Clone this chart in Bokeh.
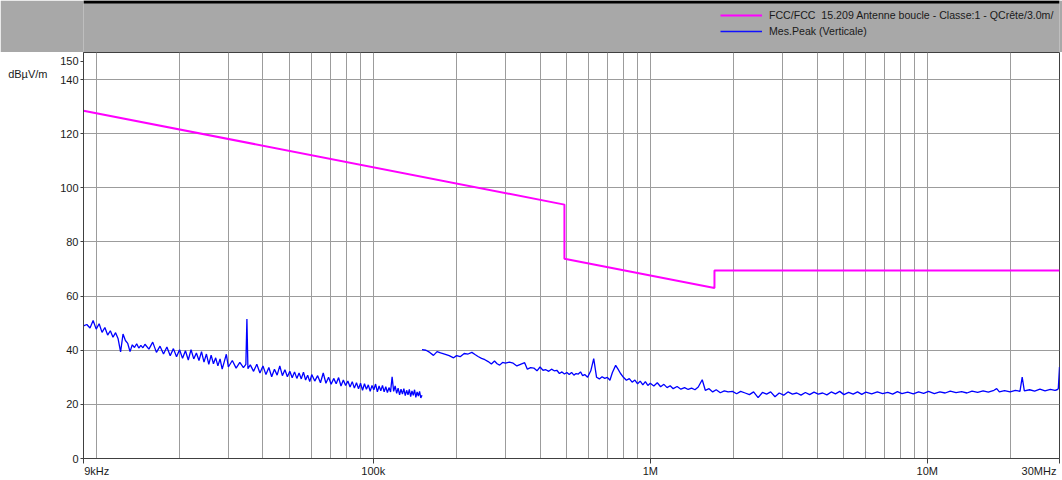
from bokeh.plotting import figure
from bokeh.models import Range1d, FixedTicker, Legend, LegendItem, LogAxis, LinearAxis, Span
from bokeh.layouts import column
from bokeh.embed import file_html
from bokeh.resources import INLINE

# ---------------- data ----------------
limit_label = "FCC/FCC  15.209 Antenne boucle - Classe:1 - QCrête/3.0m/"
meas_label = "Mes.Peak (Verticale)"
y_unit = "dBµV/m"

limit_freq_hz = [9e3, 490e3, 490e3, 1.705e6, 1.705e6, 30e6]
limit_level = [128.5, 93.8, 73.8, 63.0, 69.5, 69.5]

low_freq_khz = [
    9.0, 9.25, 9.5, 9.75, 10.0, 10.25, 10.5, 10.75, 11.0, 11.25,
    11.5, 11.75, 12.0, 12.25, 12.5, 12.75, 13.0, 13.25, 13.5, 13.75,
    14.0, 14.25, 14.5, 14.75, 15.0, 15.5, 16.0, 16.5, 17.0, 17.5,
    18.0, 18.5, 19.0, 19.5, 20.0, 20.5, 21.0, 21.5, 22.0, 22.5,
    23.0, 23.5, 24.0, 24.5, 25.0, 25.5, 26.0, 26.5, 27.0, 27.5,
    28.0, 28.5, 29.0, 29.5, 30.0, 31.0, 32.0, 33.0, 34.0, 34.7,
    35.0, 35.3, 36.0, 37.0, 38.0, 39.0, 40.0, 41.0, 42.0, 43.0,
    44, 45, 46, 47, 48, 49, 50, 51, 52, 53,
    54, 55, 56, 57, 58, 59, 60, 61.5, 63, 64.5,
    66, 67.5, 69, 70.5, 72, 73.5, 75, 76.5, 78, 79.5,
    81, 82.5, 84, 85.5, 87, 88.5, 90, 91.5, 93, 94.5,
    96, 97.5, 99, 100.5, 102, 103.5, 105, 106.5, 108, 109.5,
    111, 112.5, 114, 115.5, 117, 118.5, 120, 121.5, 123, 124.5,
    126, 127.5, 129, 130.5, 132, 133.5, 135, 136.5, 138, 139.5,
    141, 142.5, 144, 145.5, 147, 148.5, 150,
]
low_level = [
    49.0, 49.5, 48.2, 51.0, 47.8, 49.8, 46.6, 48.4, 45.6, 47.2,
    44.8, 46.5, 44.2, 39.4, 46.0, 43.6, 42.5, 39.5, 42.0, 41.0,
    42.4, 40.8, 41.8, 40.9, 42.2, 40.4, 43.0, 39.2, 41.5, 38.6,
    41.2, 38.0, 40.6, 37.6, 40.2, 37.0, 39.8, 36.4, 40.2, 36.8,
    39.0, 36.2, 39.5, 35.6, 38.6, 34.8, 38.2, 35.0, 37.2, 34.2,
    36.8, 33.0, 35.8, 38.5, 33.8, 36.2, 33.4, 35.5, 33.6, 34.8,
    51.5, 33.2, 34.6, 32.2, 34.8, 31.6, 34.2, 31.0, 33.6, 30.2,
    33.0, 30.8, 34.2, 30.6, 32.8, 30.2, 32.2, 29.8, 32.0, 29.6,
    31.6, 29.4, 31.9, 29.0, 30.8, 28.4, 31.0, 28.6, 30.6, 28.0,
    31.6, 27.8, 30.0, 27.4, 29.6, 27.6, 29.9, 26.8, 29.0, 27.0,
    28.6, 26.4, 28.4, 26.0, 28.0, 25.8, 27.8, 25.2, 27.6, 25.6,
    27.2, 24.8, 27.0, 25.4, 27.5, 24.6, 26.8, 25.0, 27.0, 24.6,
    26.5, 24.4, 26.2, 24.6, 30.2, 24.8, 26.8, 24.1, 26.0, 23.5,
    25.6, 23.8, 25.8, 23.2, 25.2, 23.5, 25.5, 22.9, 25.0, 23.3,
    25.4, 22.6, 24.6, 23.1, 24.8, 22.4, 23.4,
]

high_freq_mhz = [
    0.150, 0.155, 0.160, 0.165, 0.170, 0.175, 0.181, 0.188, 0.195, 0.200,
    0.206, 0.213, 0.220, 0.227, 0.233, 0.239, 0.246, 0.253, 0.260, 0.267,
    0.274, 0.280, 0.286, 0.293, 0.300, 0.310, 0.320, 0.330, 0.340, 0.352,
    0.360, 0.370, 0.380, 0.390, 0.400, 0.410, 0.420, 0.430, 0.440, 0.450,
    0.460, 0.470, 0.480, 0.490, 0.500, 0.510, 0.520, 0.530, 0.540, 0.550,
    0.560, 0.570, 0.580, 0.594, 0.610, 0.625, 0.640, 0.655, 0.670, 0.685,
    0.700, 0.715, 0.730, 0.750, 0.765, 0.780, 0.800, 0.820, 0.840, 0.860,
    0.880, 0.900, 0.920, 0.940, 0.960, 0.980, 1.00, 1.03, 1.06, 1.09,
    1.12, 1.15, 1.18, 1.21, 1.25, 1.29, 1.33, 1.37, 1.41, 1.45,
    1.49, 1.54, 1.58, 1.63, 1.68, 1.73, 1.79, 1.85, 1.91, 1.98,
    2.05, 2.12, 2.20, 2.28, 2.36, 2.45, 2.54, 2.63, 2.72, 2.82,
    2.92, 3.03, 3.14, 3.26, 3.38, 3.50, 3.63, 3.76, 3.90, 4.04,
    4.19, 4.34, 4.50, 4.66, 4.83, 5.00, 5.2, 5.4, 5.6, 5.8,
    6.0, 6.3, 6.6, 6.9, 7.2, 7.5, 7.8, 8.1, 8.5, 8.9,
    9.3, 9.7, 10.1, 10.6, 11.1, 11.6, 12.1, 12.7, 13.3, 13.9,
    14.5, 15.2, 15.9, 16.6, 17.4, 17.8, 18.2, 19.0, 19.9, 20.8,
    21.6, 22.0, 22.4, 23.4, 24.4, 25.5, 26.6, 27.8, 28.9, 29.4,
    29.7, 30.0,
]
high_level = [
    40.2, 40.0, 39.2, 38.1, 39.5, 39.0, 38.6, 38.0, 37.2, 38.0,
    37.6, 38.8, 38.6, 39.2, 38.4, 37.7, 37.0, 36.5, 35.8, 34.9,
    36.0, 35.0, 34.5, 35.5, 35.2, 35.6, 35.2, 34.2, 34.8, 35.4,
    33.0, 33.6, 33.4, 32.4, 33.8, 32.6, 32.8, 32.2, 33.0, 32.4,
    32.6, 31.4, 32.0, 31.2, 31.8, 31.0, 31.8, 30.8, 31.4, 31.2,
    32.0, 30.6, 31.0, 30.0, 32.4, 36.9, 30.0, 29.4, 30.2, 29.6,
    30.0, 28.9, 31.8, 34.4, 33.0, 31.5, 30.0, 28.9, 29.5, 28.2,
    29.0, 27.6, 28.6, 27.2, 28.4, 27.0, 27.8, 26.8, 28.0, 26.5,
    27.4, 26.2, 26.9, 25.8, 26.6, 25.6, 26.2, 25.5, 26.0, 25.4,
    26.4, 29.1, 25.2, 25.8, 24.6, 25.4, 24.3, 25.0, 24.6, 24.8,
    23.9, 24.8, 24.2, 23.6, 24.6, 22.5, 24.4, 23.8, 24.6, 22.8,
    24.2, 23.4, 24.6, 23.8, 24.2, 23.4, 24.4, 23.6, 24.5, 23.8,
    24.2, 23.5, 24.6, 23.9, 24.8, 23.6, 24.4, 23.8, 24.6, 23.7,
    24.5, 23.9, 24.6, 24.0, 24.4, 23.8, 24.7, 24.0, 24.5, 23.9,
    24.6, 24.1, 24.8, 24.0, 24.6, 24.2, 24.9, 24.3, 24.7, 24.2,
    24.9, 24.4, 25.0, 24.5, 25.2, 25.8, 24.6, 25.1, 24.6, 25.2,
    24.8, 30.1, 25.0, 25.4, 24.9, 25.6, 25.0, 25.5, 25.2, 25.4,
    25.8, 33.8,
]

y_ticks = [0, 20, 40, 60, 80, 100, 120, 140]
x_ticks = [9e3, 1e5, 1e6, 1e7, 3e7]
x_tick_texts = ["9kHz", "100k", "1M", "10M", "30MHz"]

# ---------------- styling / layout ----------------
FONT = "Liberation Sans"
GRAY_BG = "#A8A8A8"
GRID = "#9C9C9C"
DARK = "#404040"
TXT = "#1a1a1a"
W = 1062
LEFT, RIGHT = 83, 3

# label anchor positions (visual placement only)
x_label_pos = [1.005e4, 1e5, 1e6, 1e7, 2.53e7]
y150_pos = 146.7
yunit_pos = 142.2

meas_x = [f * 1e3 for f in low_freq_khz] + [float("nan")] + [f * 1e6 for f in high_freq_mhz]
meas_y = low_level + [float("nan")] + high_level

# ---------------- header (legend band) ----------------
HEAD_H = 52
head = figure(width=W, height=HEAD_H, x_range=Range1d(0, W - LEFT - RIGHT), y_range=Range1d(0, HEAD_H),
              output_backend="svg", toolbar_location=None,
              min_border_left=LEFT, min_border_right=RIGHT, min_border_top=0, min_border_bottom=0,
              background_fill_color=GRAY_BG, border_fill_color=GRAY_BG, outline_line_color=None)
head.axis.visible = False
head.grid.visible = False
r_lim = head.line(x=[-50, -40], y=[-50, -40], line_color="#FF00FF", line_width=2)
r_mes = head.line(x=[-50, -40], y=[-50, -40], line_color="#1010FF", line_width=1.6)
leg = Legend(items=[LegendItem(label=limit_label, renderers=[r_lim]),
                    LegendItem(label=meas_label, renderers=[r_mes])],
             location=(637, 14), orientation="vertical",
             background_fill_alpha=0, border_line_color=None,
             padding=0, margin=0, spacing=2,
             glyph_width=42, glyph_height=14, label_height=14, label_standoff=7,
             label_text_font=FONT, label_text_font_size="10.6px", label_text_color=TXT)
head.add_layout(leg)
head.add_layout(Span(location=HEAD_H - 1.5, dimension="width", line_color="black", line_width=3))

# ---------------- main chart ----------------
p = figure(width=W, height=480 - HEAD_H, x_axis_type="log",
           x_range=Range1d(9e3, 3e7), y_range=Range1d(0, 150),
           output_backend="svg", toolbar_location=None,
           min_border_left=LEFT, min_border_right=RIGHT, min_border_top=0, min_border_bottom=22,
           background_fill_color="white", border_fill_color="white",
           outline_line_color=DARK, outline_line_width=1)

grid_ticks = [m * 10 ** e for e in range(4, 8) for m in range(1, 10) if 9e3 <= m * 10 ** e <= 3e7]
p.xgrid.ticker = FixedTicker(ticks=grid_ticks)
p.ygrid.ticker = FixedTicker(ticks=y_ticks)
p.grid.grid_line_color = GRID
p.grid.grid_line_width = 1

# inner x axis: short tick marks only (drawn as minor ticks, so no texts)
xa = p.xaxis[0]
xa.ticker = FixedTicker(ticks=[], minor_ticks=x_ticks)
xa.axis_line_color = DARK
xa.major_tick_line_color = None
xa.minor_tick_line_color = DARK
xa.major_tick_in = 0
xa.major_tick_out = 5
xa.minor_tick_in = 0
xa.minor_tick_out = 5
xa.major_label_standoff = 0

# outer x axis: the tick texts
xl = LogAxis(ticker=FixedTicker(ticks=x_label_pos),
             major_label_overrides={pos: t for pos, t in zip(x_label_pos, x_tick_texts)},
             axis_line_color=None, major_tick_line_color=None, minor_tick_line_color=None,
             major_tick_in=0, major_tick_out=0, major_label_standoff=1,
             major_label_text_font=FONT, major_label_text_font_size="11px",
             major_label_text_color=TXT)
p.add_layout(xl, "below")

# inner y axis: ticks 0..140 plus the "150" text near the top
ya = p.yaxis[0]
ya.ticker = FixedTicker(ticks=y_ticks + [y150_pos])
ya.major_label_overrides = {y150_pos: "150"}
ya.axis_line_color = DARK
ya.major_tick_line_color = DARK
ya.minor_tick_line_color = None
ya.major_tick_in = 0
ya.major_tick_out = 3
ya.major_label_standoff = 2
ya.major_label_text_font = FONT
ya.major_label_text_font_size = "11px"
ya.major_label_text_color = TXT

# outer y axis: unit text
yu = LinearAxis(ticker=FixedTicker(ticks=[yunit_pos]),
                major_label_overrides={yunit_pos: y_unit},
                axis_line_color=None, major_tick_line_color=None, minor_tick_line_color=None,
                major_tick_in=0, major_tick_out=0, major_label_standoff=10,
                major_label_text_font=FONT, major_label_text_font_size="11px",
                major_label_text_color=TXT)
p.add_layout(yu, "left")

p.line(limit_freq_hz, limit_level, line_color="#FF00FF", line_width=2)
p.line(meas_x, meas_y, line_color="#0000FF", line_width=1.3)

layout = column(head, p, spacing=0)
open("out.html", "w").write(file_html(layout, INLINE))
